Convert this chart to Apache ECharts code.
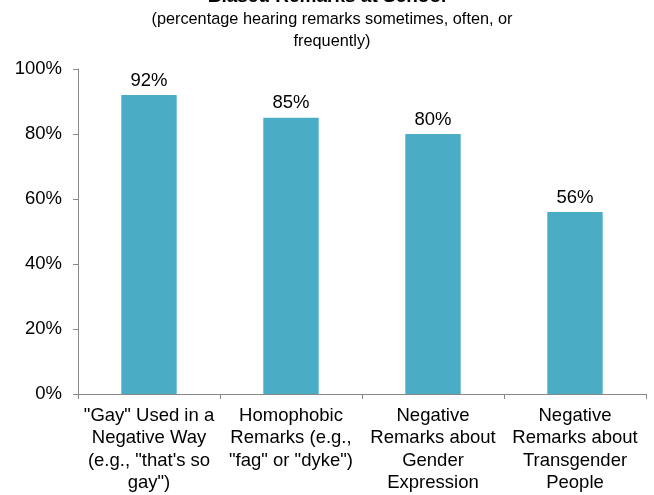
<!DOCTYPE html>
<html><head><meta charset="utf-8">
<script src="https://cdn.jsdelivr.net/npm/echarts@6/dist/echarts.min.js"></script>
<style>html,body{margin:0;padding:0;background:#fff}#c{width:654px;height:495px}</style>
</head><body><div id="c"></div>
<script>
var categories = ['"Gay" Used in a\nNegative Way\n(e.g., "that\'s so\ngay")', 'Homophobic\nRemarks (e.g.,\n"fag" or "dyke")', 'Negative\nRemarks about\nGender\nExpression', 'Negative\nRemarks about\nTransgender\nPeople'];
var values = [92, 85, 80, 56];
var yTicks = [0, 20, 40, 60, 80, 100];
var font = '"Liberation Sans", Arial, sans-serif';
var chart = echarts.init(document.getElementById('c'));
chart.setOption({
  animation: false,
  title: [
    {text: 'Biased Remarks at School', left: 'center', top: -17.5, textStyle: {fontFamily: font, fontSize: 19, fontWeight: 'bold', color: '#000'}},
    {text: '(percentage hearing remarks sometimes, often, or\nfrequently)', left: 327, textAlign: 'center', top: 4, textStyle: {fontFamily: font, fontSize: 16.3, fontWeight: 'normal', color: '#000', lineHeight: 22}}
  ],
  grid: {left: 78, right: 8, top: 69, bottom: 101, containLabel: false},
  xAxis: {
    type: 'category', data: categories,
    axisLine: {lineStyle: {color: '#888', width: 1}},
    axisTick: {show: true, length: 5, lineStyle: {color: '#888'}},
    axisLabel: {interval: 0, color: '#000', fontFamily: font, fontSize: 18.5, lineHeight: 22.2, margin: 11}
  },
  yAxis: {
    type: 'value', min: 0, max: 100, interval: 20,
    axisLine: {show: true, lineStyle: {color: '#888'}},
    axisTick: {show: true, length: 5, lineStyle: {color: '#888'}},
    splitLine: {show: false},
    axisLabel: {color: '#000', fontFamily: font, fontSize: 18.5, margin: 16, formatter: function(v){return yTicks.indexOf(v) >= 0 ? v + '%' : '';}}
  },
  series: [{
    type: 'bar', data: values, barWidth: '39%',
    itemStyle: {color: '#4BACC6'},
    label: {show: true, position: 'top', distance: 5, color: '#000', fontFamily: font, fontSize: 18.5, formatter: '{c}%'}
  }]
});
</script></body></html>
